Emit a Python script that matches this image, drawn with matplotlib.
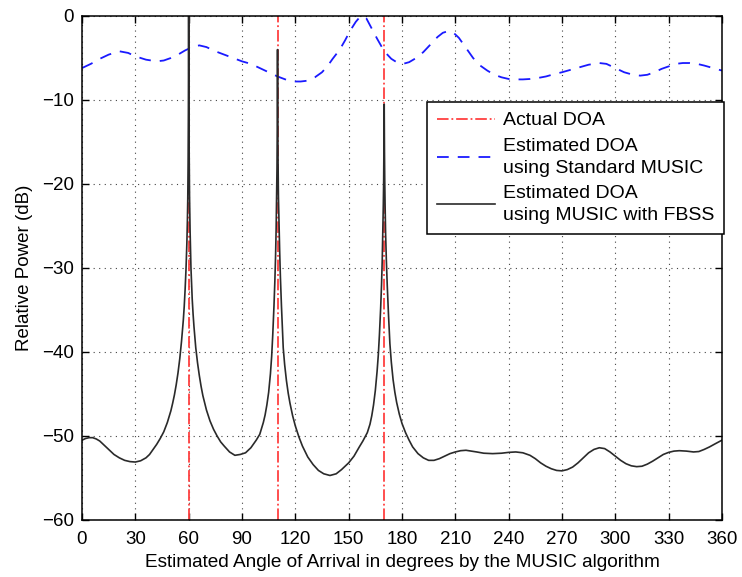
import numpy as np
import matplotlib.pyplot as plt

plt.rcParams['font.family'] = ['Liberation Sans', 'DejaVu Sans']

# Actual directions of arrival (degrees)
doa_true = [60, 110, 170]

# Standard MUSIC spectrum
std_angle = [0, 5, 10, 15, 21, 26, 30, 36, 42, 46, 50, 54, 58, 62, 66, 70,
             75, 80, 85, 90, 95, 100, 105, 110, 115, 119, 123, 127, 131, 135,
             138, 141, 145, 148, 151, 154, 156, 158, 160, 163, 166, 170, 174,
             177, 180.6, 184, 188, 192, 196, 200, 203, 206, 209, 212, 216, 220,
             224, 228, 232, 236, 240, 244, 248, 252, 256, 261, 266, 270, 275,
             280, 285, 291, 295, 298, 302, 305, 310, 314, 318, 322, 326, 330,
             334, 338, 342, 346, 350, 355, 360]
std_power = [-6.2, -5.7, -5.1, -4.6, -4.2, -4.4, -4.8, -5.2, -5.4, -5.3, -5.0,
             -4.6, -4.1, -3.7, -3.5, -3.7, -4.2, -4.6, -5.0, -5.4, -5.7, -6.2,
             -6.7, -7.2, -7.6, -7.8, -7.8, -7.7, -7.3, -6.7, -6.0, -5.1, -4.0,
             -2.9, -1.7, -0.7, -0.2, 0.0, -0.3, -1.5, -2.7, -4.2, -5.1, -5.5,
             -5.7, -5.5, -5.0, -4.3, -3.4, -2.5, -2.0, -1.8, -2.0, -2.6, -3.8,
             -5.0, -5.9, -6.5, -7.0, -7.3, -7.5, -7.55, -7.55, -7.5, -7.4, -7.2,
             -6.9, -6.7, -6.4, -6.1, -5.8, -5.6, -5.7, -6.0, -6.4, -6.7, -7.0,
             -7.1, -7.0, -6.7, -6.3, -6.0, -5.7, -5.6, -5.6, -5.7, -5.9, -6.2,
             -6.5]

# MUSIC with FBSS spectrum
fbss_angle = [0, 2, 4, 6, 8, 10, 12, 15, 18, 21, 24, 27, 30, 33, 36, 38, 40,
              42, 44, 46, 48, 50, 51, 52, 53, 54, 55, 56, 57, 57.5, 58, 58.5,
              59, 59.3, 59.5, 59.7, 59.85, 59.95, 60,
              60.05, 60.15, 60.3, 60.5, 60.8, 61.3, 62, 62.5, 63, 64, 65, 66,
              67, 68, 70, 72, 74, 76, 78, 80, 83, 86, 89,
              92, 95, 98, 100, 102, 103, 104, 105, 106, 106.7, 107.3, 108,
              108.5, 108.9, 109.2, 109.5, 109.7, 109.85, 109.95, 110,
              110.05, 110.15, 110.3, 110.5, 110.8, 111.2, 111.6, 112.2, 112.7,
              113.2, 114, 115, 116, 117, 118.5, 120, 122, 124, 127, 130, 133,
              136, 139.5, 143, 146, 150, 153, 156, 158, 160.5,
              162, 163, 164, 165, 166, 166.7, 167.3, 168, 168.5, 168.9, 169.2,
              169.5, 169.7, 169.85, 169.95, 170,
              170.05, 170.15, 170.3, 170.5, 170.8, 171.2, 171.7, 172.4, 173.2,
              174, 175, 176, 177, 178.5, 180, 182, 184, 186, 189, 192, 195,
              198, 201, 204, 207, 210, 213, 216, 219, 222, 226, 231, 236, 240,
              244, 248, 252, 255, 258, 261, 264, 267, 270, 273, 276, 279, 282,
              285, 288, 291, 294, 297, 300, 303, 306, 309, 312, 315, 318, 321,
              324, 327, 330, 333, 336, 340, 344, 347, 350, 353, 356, 360]
fbss_power = [-50.5, -50.3, -50.2, -50.2, -50.35, -50.6, -51.0, -51.6, -52.2,
              -52.6, -52.9, -53.05, -53.1, -52.95, -52.6, -52.2, -51.6, -51.0,
              -50.3, -49.5, -48.4, -47.0, -46.1, -45.1, -43.9, -42.5, -40.8,
              -38.7, -36.2, -34.6, -32.6, -30.2, -27.0, -24.3, -21.8, -17.5,
              -11.5, -4.0, 0.0,
              -4.0, -11.0, -16.5, -21.5, -25.5, -30.0, -33.7, -35.5, -37.0,
              -39.5, -41.3, -42.8, -44.1, -45.2, -46.9, -48.2, -49.2, -50.0,
              -50.7, -51.2, -51.9, -52.3, -52.2,
              -52.0, -51.4, -50.5, -49.8, -48.4, -47.5, -46.3, -44.8, -42.6,
              -40.5, -38.0, -34.5, -31.5, -28.5, -25.5, -21.5, -18.0, -13.0,
              -7.0, -4.0,
              -7.0, -13.0, -17.5, -21.5, -24.5, -28.0, -31.0, -34.5, -37.0,
              -39.5, -41.5, -43.4, -44.9, -46.1, -47.6, -48.8, -50.1, -51.2,
              -52.5, -53.4, -54.1, -54.5, -54.7, -54.5, -54.0, -53.2, -52.4,
              -51.3, -50.6, -49.6,
              -48.6, -47.6, -46.3, -44.6, -42.3, -40.3, -38.0, -34.8, -32.0,
              -29.0, -26.0, -22.5, -19.5, -16.0, -12.5, -10.5,
              -12.5, -16.0, -19.5, -22.5, -26.0, -29.0, -32.0, -35.5, -39.0,
              -41.2, -43.3, -44.8, -46.0, -47.4, -48.5, -49.6, -50.5, -51.3,
              -52.1, -52.6, -52.9, -52.9, -52.7, -52.4, -52.1, -51.9, -51.75,
              -51.7, -51.8, -51.9, -52.05, -52.1, -52.05, -51.95, -51.9, -52.0,
              -52.3, -52.7, -53.2, -53.6, -53.9, -54.1, -54.15, -54.0, -53.7,
              -53.2, -52.6, -52.0, -51.6, -51.4, -51.5, -51.9, -52.4, -52.9,
              -53.3, -53.55, -53.65, -53.6, -53.35, -53.0, -52.6, -52.2, -51.95,
              -51.8, -51.75, -51.8, -51.9, -51.85, -51.6, -51.3, -50.95, -50.5]

fig = plt.figure(figsize=(7.42, 5.77), dpi=100)
ax = fig.add_axes([0.1105, 0.0988, 0.8625, 0.8735])

for i, a in enumerate(doa_true):
    ax.axvline(a, color='#ff4040', linestyle='-.', linewidth=1.3,
               label='Actual DOA' if i == 0 else None)
ax.plot(std_angle, std_power, color='#1a1aff', linestyle=(0, (6.5, 5)),
        linewidth=1.3, label='Estimated DOA\nusing Standard MUSIC')
ax.plot(fbss_angle, fbss_power, color='#2a2a2a', linewidth=1.2,
        label='Estimated DOA\nusing MUSIC with FBSS')

ax.set_xlim(0, 360)
ax.set_ylim(-60, 0)
ax.set_xticks(np.arange(0, 361, 30))
ax.set_yticks(np.arange(-60, 1, 10))
ax.grid(True, linestyle=(0, (1, 4)), color='#444444', linewidth=0.8)
ax.tick_params(direction='in', top=True, right=True, length=5, width=1,
               labelsize=13.5, pad=6)
ax.tick_params(axis='x', pad=8)
for s in ax.spines.values():
    s.set_linewidth(1.1)

ax.set_xlabel('Estimated Angle of Arrival in degrees by the MUSIC algorithm',
              fontsize=13.7, labelpad=4)
ax.set_ylabel('Relative Power (dB)', fontsize=13.5, labelpad=6)

leg = ax.legend(loc='upper left', bbox_to_anchor=(427 / 742, 1 - 102 / 577),
                bbox_transform=fig.transFigure, fontsize=14, frameon=True,
                fancybox=False, edgecolor='black', framealpha=1,
                handlelength=3.0, handletextpad=0.4, borderpad=0.5,
                labelspacing=0.45, borderaxespad=0)
for t in leg.get_texts():
    t.set_linespacing(1.35)
leg.get_frame().set_linewidth(1.1)

fig.savefig('out.png', dpi=100)
